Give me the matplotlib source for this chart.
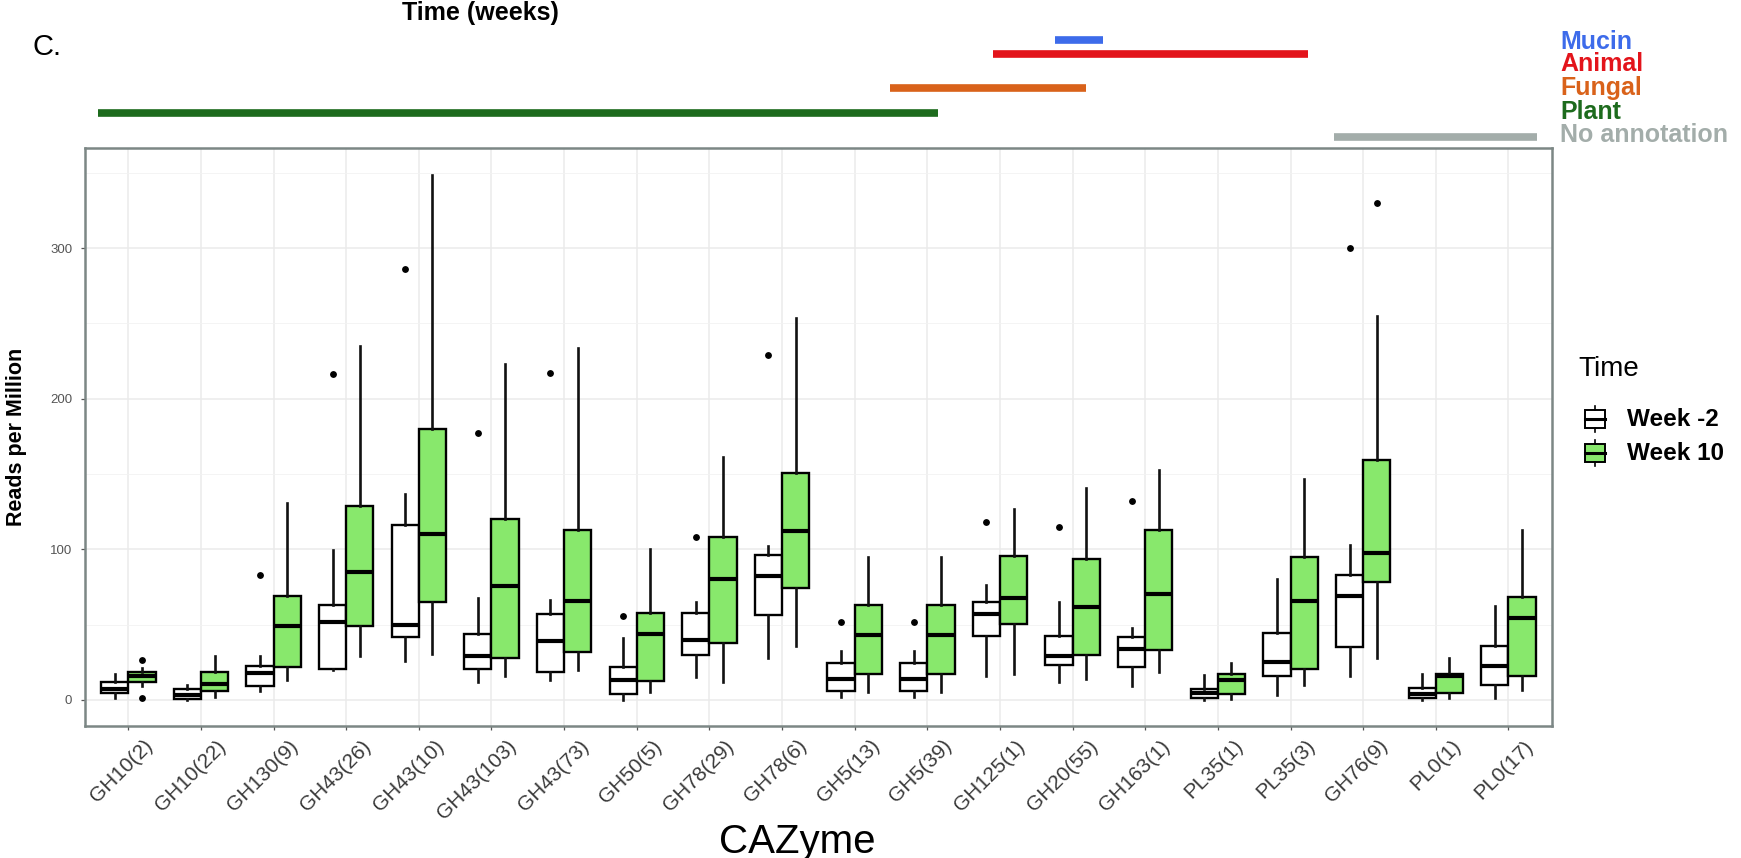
import matplotlib
matplotlib.use("Agg")
import matplotlib.pyplot as plt
import matplotlib.transforms as mtransforms
from matplotlib.lines import Line2D
from matplotlib.patches import Rectangle
from matplotlib.ticker import MultipleLocator

plt.rcParams['font.family'] = ['Liberation Sans', 'DejaVu Sans']

# ---------------- data ----------------
categories = ["GH10(2)", "GH10(22)", "GH130(9)", "GH43(26)", "GH43(10)", "GH43(103)",
              "GH43(73)", "GH50(5)", "GH78(29)", "GH78(6)", "GH5(13)", "GH5(39)",
              "GH125(1)", "GH20(55)", "GH163(1)", "PL35(1)", "PL35(3)", "GH76(9)",
              "PL0(1)", "PL0(17)"]

# Week -2
w2_lo  = [1, 0, 6, 20, 26, 12, 13, 0, 15, 28, 2, 2, 16, 12, 9, 0, 3, 16, 0, 1]
w2_q1  = [4.5, 0.5, 9.3, 20.5, 42, 20.3, 18.3, 4, 30, 56.5, 6, 6, 42.5, 23.5, 22, 1, 15.6, 35, 1, 10]
w2_med = [7.6, 3, 17.8, 52, 50, 29.5, 39.3, 13, 40, 82, 14, 14, 57, 29, 34, 4.5, 25, 69.3, 4, 22.3]
w2_q3  = [11.6, 7.6, 22.7, 63, 116, 43.8, 57, 22, 58, 96.5, 24.5, 24.5, 65, 42.5, 42, 7, 44.4, 83, 8, 36]
w2_hi  = [17, 9.8, 29.4, 99.5, 137, 68, 66.3, 41, 65, 102, 32.5, 32.5, 76, 65, 48, 16.5, 80, 102.7, 17, 62.7]
w2_out = [[], [], [83], [216.5], [286], [177], [217], [56], [108], [229], [52], [52],
          [118], [115], [132], [], [], [300], [], []]

# Week 10
w10_lo  = [9, 1.8, 13.3, 29.3, 30.3, 15.6, 20, 5, 12, 36, 5, 5, 17, 13.8, 18.7, 0.5, 9.8, 28, 1, 6.7]
w10_q1  = [11.6, 6, 22.2, 49, 65, 28, 31.6, 12.5, 38, 74.5, 17, 17, 50.7, 30, 33, 3.8, 20.5, 78, 4.5, 16]
w10_med = [15.6, 10.5, 49.3, 84.7, 110, 75.5, 65.9, 43.8, 80, 112.5, 43, 43, 68, 61.4, 70.5, 13.3, 66, 97.8, 15.6, 54.3]
w10_q3  = [18.7, 18.7, 68.7, 128.7, 180, 120, 112.8, 58, 108, 150.7, 63, 63, 95.5, 93.8, 113, 17, 95, 159, 17, 68.3]
w10_hi  = [21, 29.4, 131, 235, 348.5, 223, 233.7, 100, 161, 253.6, 95, 95, 127, 141, 153, 24.5, 147, 255, 28, 113]
w10_out = [[26.5, 1], [], [], [], [], [], [], [], [], [], [], [], [], [], [], [], [], [330], [], []]

series_names = ["Week -2", "Week 10"]
series_fill = ["white", "#88E86C"]

# substrate annotation spans (in category units) above the panel
annot_names = ["Mucin", "Animal", "Fungal", "Plant", "No annotation"]
annot_start = [12.76, 11.91, 10.49, -0.42, 16.60]
annot_end = [13.42, 16.24, 13.19, 11.15, 19.40]
annot_colors = ["#3D6BEA", "#E3141B", "#D9621A", "#1D6B1D", "#A3ADAA"]

yticks = [0, 100, 200, 300]

# ---------------- figure ----------------
W, H = 1741, 858
fig = plt.figure(figsize=(W / 100, H / 100), dpi=100)


def fx(x):
    return x / W


def fy(y):
    return 1 - y / H


ax_l, ax_r, ax_t, ax_b = 84.7, 1552, 148, 726
ax = fig.add_axes([fx(ax_l), fy(ax_b), fx(ax_r - ax_l), (ax_b - ax_t) / H])

n = len(categories)
xs = list(range(n))
dodge = 0.1875
bw = 0.375


def stats(lo, q1, med, q3, hi, out):
    return [dict(med=med[i], q1=q1[i], q3=q3[i], whislo=lo[i], whishi=hi[i], fliers=out[i])
            for i in range(len(med))]


all_series = [
    stats(w2_lo, w2_q1, w2_med, w2_q3, w2_hi, w2_out),
    stats(w10_lo, w10_q1, w10_med, w10_q3, w10_hi, w10_out),
]
for k, st in enumerate(all_series):
    off = -dodge if k == 0 else dodge
    ax.bxp(st, positions=[x + off for x in xs], widths=bw, patch_artist=True,
           showcaps=False, manage_ticks=False,
           boxprops=dict(facecolor=series_fill[k], edgecolor="black", linewidth=1.7),
           medianprops=dict(color="black", linewidth=3.0, solid_capstyle="butt"),
           whiskerprops=dict(color="#111111", linewidth=1.9),
           flierprops=dict(marker="o", markerfacecolor="black", markeredgecolor="black",
                           markersize=3.9))

ax.set_xlim(-0.6, n - 1 + 0.6)
ax.set_ylim(-17.3, 366.5)
ax.set_yticks(yticks)
ax.yaxis.set_minor_locator(MultipleLocator(50))
ax.set_xticks(xs)
ax.set_axisbelow(True)
ax.grid(which="major", axis="both", color="#EBEBEB", linewidth=1.1)
ax.grid(which="minor", axis="y", color="#F2F2F2", linewidth=0.6)
for s in ax.spines.values():
    s.set_color("#7C8785")
    s.set_linewidth(1.8)

ax.tick_params(axis="y", which="major", length=3, width=0.9, color="#555555",
               labelsize=9.5, labelcolor="#555555", pad=6)
ax.tick_params(axis="y", which="minor", length=0)
ax.tick_params(axis="x", which="major", length=3, width=0.9, color="#555555",
               labelsize=15, labelcolor="#3A3A3A", pad=0)
ax.set_xticklabels(categories, rotation=45, ha="right", va="center",
                   rotation_mode="anchor")
shift = mtransforms.ScaledTranslation(0.22, -0.13, fig.dpi_scale_trans)
for lab in ax.get_xticklabels():
    lab.set_transform(lab.get_transform() + shift)

# axis titles
fig.text(fx(17), fy((ax_t + ax_b) / 2), "Reads per Million", fontsize=15.5,
         fontweight="bold", rotation=90, ha="center", va="center")
fig.text(fx(797), fy(842), "CAZyme", fontsize=29, ha="center", va="center", color="black")

# top texts
fig.text(fx(480), fy(13), "Time (weeks)", fontsize=18, fontweight="bold",
         ha="center", va="center")
fig.text(fx(33), fy(47), "C.", fontsize=21, ha="left", va="center")

# annotation bars
ann_y = [40, 54, 88, 113, 137]
lab_y = [42, 64, 88, 112, 135]
btrans = mtransforms.blended_transform_factory(ax.transData, fig.transFigure)
for name, s0, s1, c, yb, yl in zip(annot_names, annot_start, annot_end, annot_colors, ann_y, lab_y):
    ln = Line2D([s0, s1], [fy(yb), fy(yb)], transform=btrans, color=c,
                linewidth=5.5, solid_capstyle="butt", clip_on=False)
    fig.add_artist(ln)
    fig.text(fx(1560), fy(yl), name, color=c, fontsize=18, fontweight="bold",
             ha="left", va="center")

# legend (Time)
fig.text(fx(1578), fy(369), "Time", fontsize=20, ha="left", va="center")
leg_y = [419, 453]
for name, fill, yy in zip(series_names, series_fill, leg_y):
    kx0, kw, kh = 1585, 20, 18
    fig.add_artist(Rectangle((fx(kx0), fy(yy + kh / 2)), fx(kw), kh / H,
                             transform=fig.transFigure, facecolor=fill,
                             edgecolor="black", linewidth=1.4))
    fig.add_artist(Line2D([fx(kx0), fx(kx0 + kw)], [fy(yy), fy(yy)],
                          transform=fig.transFigure, color="black", linewidth=2.2))
    cx = kx0 + kw / 2
    fig.add_artist(Line2D([fx(cx), fx(cx)], [fy(yy - kh / 2), fy(yy - kh / 2 - 4)],
                          transform=fig.transFigure, color="black", linewidth=1.2))
    fig.add_artist(Line2D([fx(cx), fx(cx)], [fy(yy + kh / 2), fy(yy + kh / 2 + 4)],
                          transform=fig.transFigure, color="black", linewidth=1.2))
    fig.text(fx(1627), fy(yy), name, fontsize=17.5, fontweight="bold",
             ha="left", va="center")

fig.savefig("out.png", dpi=100)
